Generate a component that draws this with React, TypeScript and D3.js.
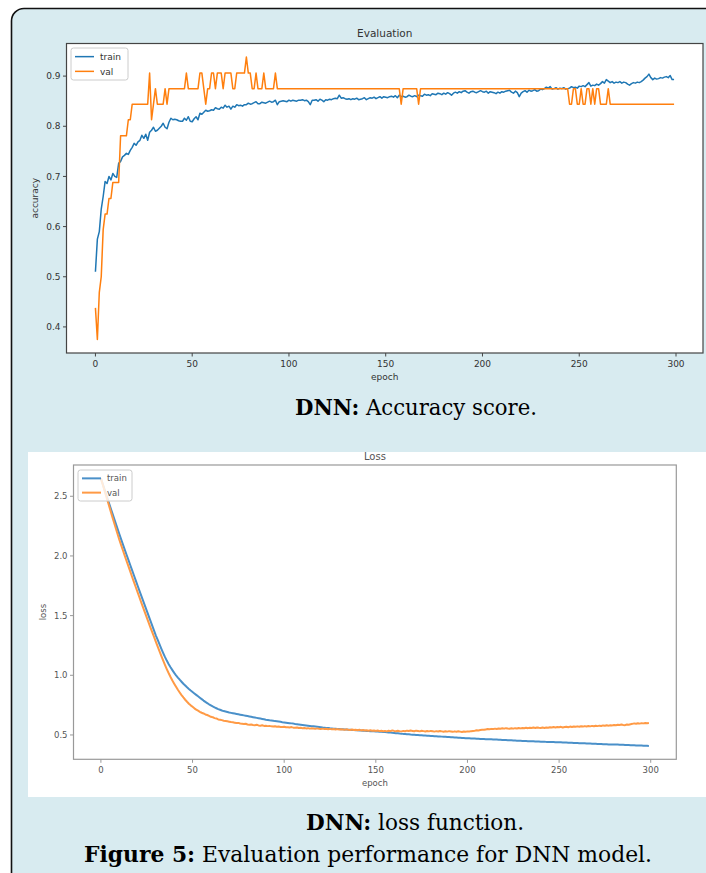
import React from "react";
import * as d3 from "d3";

// tick values shown on the axes
const epochTicks = [0, 50, 100, 150, 200, 250, 300];
const accTicks = [0.4, 0.5, 0.6, 0.7, 0.8, 0.9];
const lossTicks = [0.5, 1.0, 1.5, 2.0, 2.5];
const seriesNames = ["train", "val"];

// accuracy per epoch (0..299)
const accTrain = [
  0.51, 0.575, 0.59, 0.635, 0.66, 0.69, 0.686, 0.7, 0.693, 0.706,
  0.7, 0.698, 0.726, 0.73, 0.739, 0.742, 0.746, 0.744, 0.752, 0.758,
  0.766, 0.762, 0.769, 0.772, 0.782, 0.776, 0.784, 0.772, 0.788, 0.792,
  0.798, 0.79, 0.792, 0.796, 0.8, 0.806, 0.798, 0.795, 0.808, 0.816,
  0.813, 0.814, 0.813, 0.811, 0.81, 0.81, 0.816, 0.812, 0.819, 0.81,
  0.809, 0.815, 0.819, 0.813, 0.826, 0.824, 0.828, 0.832, 0.83, 0.831,
  0.833, 0.832, 0.837, 0.835, 0.834, 0.838, 0.836, 0.842, 0.838, 0.84,
  0.834, 0.84, 0.838, 0.843, 0.841, 0.842, 0.84, 0.843, 0.843, 0.846,
  0.844, 0.845, 0.847, 0.849, 0.845, 0.845, 0.848, 0.847, 0.846, 0.848,
  0.85, 0.848, 0.849, 0.852, 0.843, 0.849, 0.85, 0.851, 0.85, 0.849,
  0.852, 0.85, 0.852, 0.851, 0.85, 0.852, 0.852, 0.853, 0.851, 0.852,
  0.849, 0.843, 0.852, 0.852, 0.853, 0.85, 0.854, 0.852, 0.849, 0.853,
  0.852, 0.854, 0.853, 0.855, 0.856, 0.855, 0.862, 0.856, 0.857, 0.855,
  0.854, 0.855, 0.853, 0.855, 0.854, 0.856, 0.853, 0.854, 0.855, 0.857,
  0.853, 0.855, 0.857, 0.856, 0.858, 0.855, 0.857, 0.859, 0.856, 0.859,
  0.858, 0.857, 0.859, 0.86, 0.858, 0.861, 0.857, 0.862, 0.859, 0.86,
  0.858, 0.859, 0.862, 0.86, 0.859, 0.861, 0.859, 0.862, 0.861, 0.86,
  0.864, 0.862, 0.863, 0.861, 0.865, 0.864, 0.863, 0.866, 0.865, 0.863,
  0.866, 0.864, 0.867, 0.865, 0.862, 0.866, 0.868, 0.866, 0.869, 0.867,
  0.87, 0.871, 0.868, 0.866, 0.869, 0.87, 0.868, 0.867, 0.869, 0.871,
  0.869, 0.868, 0.87, 0.866, 0.869, 0.868, 0.867, 0.865, 0.868, 0.866,
  0.869, 0.868, 0.87, 0.871, 0.872, 0.868, 0.866, 0.87, 0.867, 0.859,
  0.866, 0.869, 0.871, 0.868, 0.872, 0.87, 0.871, 0.873, 0.87, 0.871,
  0.874, 0.873, 0.875, 0.878, 0.876, 0.879, 0.874, 0.875, 0.877, 0.874,
  0.876, 0.875, 0.877, 0.874, 0.875, 0.876, 0.879, 0.877, 0.878, 0.876,
  0.88, 0.879, 0.881, 0.879, 0.883, 0.887, 0.88, 0.882, 0.881, 0.884,
  0.882, 0.885, 0.889, 0.886, 0.893, 0.89, 0.887, 0.889, 0.886, 0.888,
  0.887, 0.889, 0.886, 0.888, 0.887, 0.884, 0.882, 0.885, 0.887, 0.886,
  0.888, 0.887, 0.889, 0.892, 0.896, 0.899, 0.904, 0.897, 0.893, 0.896,
  0.894, 0.895, 0.897, 0.896, 0.898, 0.899, 0.897, 0.901, 0.893, 0.893,
];

const accVal = [
  0.438, 0.375, 0.469, 0.5, 0.594, 0.625, 0.625, 0.656, 0.656, 0.688,
  0.688, 0.688, 0.688, 0.781, 0.781, 0.781, 0.781, 0.813, 0.813, 0.844,
  0.844, 0.844, 0.844, 0.844, 0.844, 0.844, 0.844, 0.844, 0.906, 0.813,
  0.844, 0.875, 0.844, 0.844, 0.844, 0.844, 0.875, 0.844, 0.875, 0.875,
  0.875, 0.875, 0.875, 0.875, 0.875, 0.875, 0.875, 0.906, 0.875, 0.875,
  0.875, 0.875, 0.875, 0.875, 0.906, 0.906, 0.875, 0.844, 0.875, 0.875,
  0.906, 0.906, 0.875, 0.906, 0.906, 0.906, 0.875, 0.906, 0.906, 0.906,
  0.906, 0.875, 0.875, 0.906, 0.906, 0.906, 0.906, 0.906, 0.938, 0.906,
  0.906, 0.875, 0.875, 0.906, 0.875, 0.875, 0.875, 0.906, 0.875, 0.875,
  0.875, 0.875, 0.875, 0.906, 0.875, 0.875, 0.875, 0.875, 0.875, 0.875,
  0.875, 0.875, 0.875, 0.875, 0.875, 0.875, 0.875, 0.875, 0.875, 0.875,
  0.875, 0.875, 0.875, 0.875, 0.875, 0.875, 0.875, 0.875, 0.875, 0.875,
  0.875, 0.875, 0.875, 0.875, 0.875, 0.875, 0.875, 0.875, 0.875, 0.875,
  0.875, 0.875, 0.875, 0.875, 0.875, 0.875, 0.875, 0.875, 0.875, 0.875,
  0.875, 0.875, 0.875, 0.875, 0.875, 0.875, 0.875, 0.875, 0.875, 0.875,
  0.875, 0.875, 0.875, 0.875, 0.875, 0.875, 0.875, 0.875, 0.844, 0.875,
  0.875, 0.875, 0.875, 0.875, 0.875, 0.875, 0.875, 0.844, 0.875, 0.875,
  0.875, 0.875, 0.875, 0.875, 0.875, 0.875, 0.875, 0.875, 0.875, 0.875,
  0.875, 0.875, 0.875, 0.875, 0.875, 0.875, 0.875, 0.875, 0.875, 0.875,
  0.875, 0.875, 0.875, 0.875, 0.875, 0.875, 0.875, 0.875, 0.875, 0.875,
  0.875, 0.875, 0.875, 0.875, 0.875, 0.875, 0.875, 0.875, 0.875, 0.875,
  0.875, 0.875, 0.875, 0.875, 0.875, 0.875, 0.875, 0.875, 0.875, 0.875,
  0.875, 0.875, 0.875, 0.875, 0.875, 0.875, 0.875, 0.875, 0.875, 0.875,
  0.875, 0.875, 0.875, 0.875, 0.875, 0.875, 0.875, 0.875, 0.875, 0.875,
  0.875, 0.875, 0.875, 0.875, 0.875, 0.844, 0.844, 0.875, 0.875, 0.844,
  0.844, 0.875, 0.844, 0.844, 0.875, 0.875, 0.844, 0.875, 0.844, 0.875,
  0.875, 0.844, 0.844, 0.844, 0.844, 0.875, 0.844, 0.844, 0.844, 0.844,
  0.844, 0.844, 0.844, 0.844, 0.844, 0.844, 0.844, 0.844, 0.844, 0.844,
  0.844, 0.844, 0.844, 0.844, 0.844, 0.844, 0.844, 0.844, 0.844, 0.844,
  0.844, 0.844, 0.844, 0.844, 0.844, 0.844, 0.844, 0.844, 0.844, 0.844,
];

// loss per epoch (0..299)
const lossTrain = [
  2.65, 2.603, 2.556, 2.509, 2.462, 2.415, 2.369, 2.323, 2.277, 2.231,
  2.185, 2.141, 2.097, 2.053, 2.01, 1.967, 1.924, 1.881, 1.838, 1.795,
  1.752, 1.71, 1.668, 1.626, 1.584, 1.542, 1.5, 1.458, 1.416, 1.374,
  1.333, 1.296, 1.259, 1.222, 1.186, 1.152, 1.121, 1.093, 1.067, 1.043,
  1.02, 1.0, 0.981, 0.963, 0.946, 0.929, 0.914, 0.899, 0.885, 0.872,
  0.86, 0.848, 0.836, 0.824, 0.812, 0.8, 0.788, 0.777, 0.767, 0.757,
  0.748, 0.739, 0.731, 0.724, 0.717, 0.711, 0.705, 0.7, 0.696, 0.692,
  0.688, 0.685, 0.682, 0.679, 0.676, 0.673, 0.67, 0.667, 0.664, 0.661,
  0.658, 0.655, 0.652, 0.649, 0.646, 0.643, 0.64, 0.637, 0.634, 0.631,
  0.628, 0.626, 0.623, 0.621, 0.619, 0.616, 0.614, 0.612, 0.61, 0.607,
  0.605, 0.603, 0.601, 0.599, 0.597, 0.595, 0.592, 0.59, 0.588, 0.586,
  0.584, 0.582, 0.58, 0.578, 0.576, 0.574, 0.572, 0.57, 0.568, 0.566,
  0.564, 0.562, 0.561, 0.559, 0.558, 0.556, 0.555, 0.553, 0.552, 0.55,
  0.549, 0.548, 0.547, 0.546, 0.545, 0.544, 0.543, 0.542, 0.541, 0.54,
  0.539, 0.538, 0.537, 0.536, 0.535, 0.534, 0.533, 0.532, 0.531, 0.53,
  0.529, 0.528, 0.527, 0.526, 0.525, 0.524, 0.523, 0.521, 0.52, 0.518,
  0.517, 0.515, 0.514, 0.512, 0.511, 0.509, 0.508, 0.506, 0.505, 0.503,
  0.502, 0.501, 0.5, 0.499, 0.498, 0.497, 0.496, 0.495, 0.494, 0.493,
  0.492, 0.491, 0.49, 0.489, 0.488, 0.487, 0.486, 0.485, 0.484, 0.483,
  0.482, 0.481, 0.48, 0.479, 0.478, 0.477, 0.476, 0.475, 0.474, 0.473,
  0.473, 0.472, 0.471, 0.47, 0.47, 0.469, 0.468, 0.467, 0.467, 0.466,
  0.465, 0.464, 0.464, 0.463, 0.462, 0.461, 0.461, 0.46, 0.459, 0.458,
  0.458, 0.457, 0.456, 0.455, 0.455, 0.454, 0.453, 0.452, 0.452, 0.451,
  0.45, 0.45, 0.449, 0.448, 0.448, 0.447, 0.447, 0.446, 0.445, 0.445,
  0.444, 0.444, 0.443, 0.442, 0.442, 0.441, 0.441, 0.44, 0.439, 0.439,
  0.438, 0.438, 0.437, 0.436, 0.436, 0.435, 0.434, 0.434, 0.433, 0.432,
  0.432, 0.431, 0.431, 0.43, 0.43, 0.429, 0.428, 0.428, 0.427, 0.427,
  0.426, 0.425, 0.425, 0.424, 0.423, 0.423, 0.422, 0.421, 0.421, 0.42,
  0.42, 0.419, 0.419, 0.418, 0.417, 0.417, 0.416, 0.415, 0.415, 0.414,
  0.414, 0.413, 0.412, 0.412, 0.411, 0.411, 0.41, 0.409, 0.409, 0.408,
];

const lossVal = [
  2.65, 2.598, 2.547, 2.495, 2.443, 2.392, 2.34, 2.289, 2.238, 2.188,
  2.138, 2.093, 2.048, 2.003, 1.958, 1.914, 1.87, 1.826, 1.783, 1.74,
  1.697, 1.654, 1.611, 1.569, 1.527, 1.485, 1.443, 1.402, 1.362, 1.322,
  1.28, 1.24, 1.2, 1.16, 1.122, 1.085, 1.05, 1.017, 0.986, 0.957,
  0.93, 0.904, 0.879, 0.856, 0.834, 0.814, 0.795, 0.778, 0.762, 0.748,
  0.736, 0.723, 0.712, 0.703, 0.694, 0.686, 0.68, 0.672, 0.667, 0.66,
  0.652, 0.649, 0.641, 0.638, 0.63, 0.628, 0.624, 0.619, 0.617, 0.614,
  0.611, 0.608, 0.606, 0.603, 0.6, 0.601, 0.596, 0.594, 0.592, 0.594,
  0.588, 0.586, 0.588, 0.584, 0.582, 0.585, 0.58, 0.578, 0.581, 0.576,
  0.577, 0.574, 0.576, 0.572, 0.57, 0.573, 0.569, 0.571, 0.567, 0.566,
  0.568, 0.564, 0.565, 0.562, 0.566, 0.561, 0.56, 0.563, 0.558, 0.56,
  0.557, 0.559, 0.555, 0.557, 0.553, 0.556, 0.554, 0.551, 0.555, 0.552,
  0.55, 0.553, 0.549, 0.552, 0.548, 0.551, 0.547, 0.55, 0.546, 0.549,
  0.545, 0.548, 0.546, 0.543, 0.547, 0.544, 0.542, 0.546, 0.541, 0.544,
  0.54, 0.543, 0.538, 0.541, 0.537, 0.54, 0.536, 0.539, 0.535, 0.538,
  0.534, 0.537, 0.532, 0.535, 0.531, 0.534, 0.53, 0.536, 0.532, 0.538,
  0.534, 0.531, 0.535, 0.532, 0.53, 0.534, 0.531, 0.536, 0.533, 0.537,
  0.534, 0.531, 0.536, 0.533, 0.53, 0.535, 0.532, 0.529, 0.533, 0.53,
  0.534, 0.531, 0.528, 0.532, 0.529, 0.533, 0.53, 0.527, 0.531, 0.528,
  0.532, 0.529, 0.526, 0.53, 0.527, 0.531, 0.528, 0.525, 0.529, 0.527,
  0.53, 0.529, 0.532, 0.534, 0.536, 0.539, 0.538, 0.542, 0.544, 0.543,
  0.546, 0.549, 0.548, 0.551, 0.549, 0.553, 0.55, 0.554, 0.552, 0.556,
  0.553, 0.557, 0.554, 0.552, 0.556, 0.553, 0.557, 0.554, 0.558, 0.555,
  0.559, 0.556, 0.56, 0.557, 0.561, 0.558, 0.562, 0.559, 0.563, 0.56,
  0.558, 0.562, 0.559, 0.563, 0.561, 0.565, 0.562, 0.566, 0.563, 0.567,
  0.564, 0.568, 0.562, 0.566, 0.569, 0.565, 0.57, 0.567, 0.571, 0.568,
  0.572, 0.569, 0.573, 0.57, 0.574, 0.571, 0.575, 0.572, 0.576, 0.573,
  0.577, 0.574, 0.578, 0.575, 0.58, 0.577, 0.581, 0.578, 0.582, 0.58,
  0.584, 0.581, 0.585, 0.583, 0.587, 0.584, 0.582, 0.588, 0.586, 0.59,
  0.593, 0.597, 0.594, 0.598, 0.595, 0.599, 0.597, 0.6, 0.598, 0.6,
];

const SANS = "DejaVu Sans, sans-serif";
const SERIF = "DejaVu Serif, serif";

type Box = { left: number; top: number; right: number; bottom: number };

type ChartProps = {
  box: Box;
  xDomain: [number, number];
  yDomain: [number, number];
  yTicks: number[];
  title: string;
  titleY: number;
  yLabel: string;
  yLabelX: number;
  xLabelY: number;
  tickLabelY: number;
  train: number[];
  val: number[];
  legend: { x: number; y: number; w: number; h: number };
  colors: string[];
  lineWidth: number;
  spine: string;
  text: string;
  fontSize: number;
  titleSize: number;
};

const Chart = (p: ChartProps) => {
  const { box } = p;
  const x = d3.scaleLinear().domain(p.xDomain).range([box.left, box.right]);
  const y = d3.scaleLinear().domain(p.yDomain).range([box.bottom, box.top]);
  const line = d3
    .line<number>()
    .x((_, i) => x(i))
    .y((d) => y(d));
  const midX = (box.left + box.right) / 2;
  const midY = (box.top + box.bottom) / 2;
  const lg = p.legend;

  return (
    <g fontFamily={SANS}>
      <rect
        x={box.left}
        y={box.top}
        width={box.right - box.left}
        height={box.bottom - box.top}
        fill="#ffffff"
      />
      {[p.train, p.val].map((s, i) => (
        <path
          key={seriesNames[i]}
          d={line(s) || ""}
          fill="none"
          stroke={p.colors[i]}
          strokeWidth={p.lineWidth}
          strokeLinejoin="round"
        />
      ))}
      <rect
        x={box.left}
        y={box.top}
        width={box.right - box.left}
        height={box.bottom - box.top}
        fill="none"
        stroke={p.spine}
        strokeWidth={1.2}
      />

      {/* x axis */}
      {epochTicks.map((t) => (
        <g key={`x${t}`}>
          <line x1={x(t)} x2={x(t)} y1={box.bottom} y2={box.bottom + 3.5} stroke={p.spine} />
          <text
            x={x(t)}
            y={p.tickLabelY}
            fontSize={p.fontSize}
            fill={p.text}
            textAnchor="middle"
          >
            {t}
          </text>
        </g>
      ))}
      <text x={midX} y={p.xLabelY} fontSize={p.fontSize} fill={p.text} textAnchor="middle">
        epoch
      </text>

      {/* y axis */}
      {p.yTicks.map((t) => (
        <g key={`y${t}`}>
          <line x1={box.left - 3.5} x2={box.left} y1={y(t)} y2={y(t)} stroke={p.spine} />
          <text
            x={box.left - 6}
            y={y(t)}
            dy="0.35em"
            fontSize={p.fontSize}
            fill={p.text}
            textAnchor="end"
          >
            {t.toFixed(1)}
          </text>
        </g>
      ))}
      <text
        transform={`translate(${p.yLabelX},${midY}) rotate(-90)`}
        fontSize={p.fontSize}
        fill={p.text}
        textAnchor="middle"
      >
        {p.yLabel}
      </text>

      <text x={midX} y={p.titleY} fontSize={p.titleSize} fill={p.text} textAnchor="middle">
        {p.title}
      </text>

      {/* legend */}
      <rect
        x={lg.x}
        y={lg.y}
        width={lg.w}
        height={lg.h}
        rx={2.5}
        fill="#ffffff"
        fillOpacity={0.8}
        stroke="#cccccc"
      />
      {seriesNames.map((n, i) => {
        const ly = lg.y + lg.h * (0.27 + 0.46 * i);
        return (
          <g key={n}>
            <line
              x1={lg.x + 4}
              x2={lg.x + 23}
              y1={ly}
              y2={ly}
              stroke={p.colors[i]}
              strokeWidth={p.lineWidth}
            />
            <text x={lg.x + 29} y={ly} dy="0.35em" fontSize={p.fontSize} fill={p.text}>
              {n}
            </text>
          </g>
        );
      })}
    </g>
  );
};

export default function App() {
  return (
    <svg
      width={706}
      height={873}
      style={{ position: "absolute", left: 0, top: 0 }}
    >
      <rect width={706} height={873} fill="#ffffff" />
      <path d="M11.5,880 V21 A12.5,12.5 0 0 1 24,8.5 H720 V880 Z" fill="#d8ebf0" />
      <path
        d="M11.5,880 V21 A12.5,12.5 0 0 1 24,8.5 H720"
        fill="none"
        stroke="#111111"
        strokeWidth={1.6}
      />

      <Chart
        box={{ left: 66.5, top: 43.5, right: 703, bottom: 353 }}
        xDomain={[-14.95, 313.95]}
        yDomain={[0.348, 0.965]}
        yTicks={accTicks}
        title="Evaluation"
        titleY={37}
        yLabel="accuracy"
        yLabelX={38}
        xLabelY={380}
        tickLabelY={367}
        train={accTrain}
        val={accVal}
        legend={{ x: 71, y: 48, w: 57, h: 32 }}
        colors={["#1f77b4", "#ff7f0e"]}
        lineWidth={1.5}
        spine="#444444"
        text="#333333"
        fontSize={9}
        titleSize={10.5}
      />

      <text x={295} y={415} fontFamily={SERIF} fontSize={22} textLength={242} lengthAdjust="spacingAndGlyphs">
        <tspan fontWeight="bold">DNN:</tspan> Accuracy score.
      </text>

      <rect x={28} y={452} width={678} height={345} fill="#ffffff" />
      <Chart
        box={{ left: 73.5, top: 465, right: 676.3, bottom: 759.3 }}
        xDomain={[-14.95, 313.95]}
        yDomain={[0.296, 2.762]}
        yTicks={lossTicks}
        title="Loss"
        titleY={460}
        yLabel="loss"
        yLabelX={46}
        xLabelY={786}
        tickLabelY={773}
        train={lossTrain}
        val={lossVal}
        legend={{ x: 78, y: 470, w: 54, h: 31 }}
        colors={["#4a90c9", "#ff9a45"]}
        lineWidth={2}
        spine="#999999"
        text="#555555"
        fontSize={8.5}
        titleSize={10}
      />

      <text x={306} y={830} fontFamily={SERIF} fontSize={22} textLength={218} lengthAdjust="spacingAndGlyphs">
        <tspan fontWeight="bold">DNN:</tspan> loss function.
      </text>
      <text x={84} y={862} fontFamily={SERIF} fontSize={22} textLength={568} lengthAdjust="spacingAndGlyphs">
        <tspan fontWeight="bold">Figure 5:</tspan> Evaluation performance for DNN model.
      </text>
    </svg>
  );
}
